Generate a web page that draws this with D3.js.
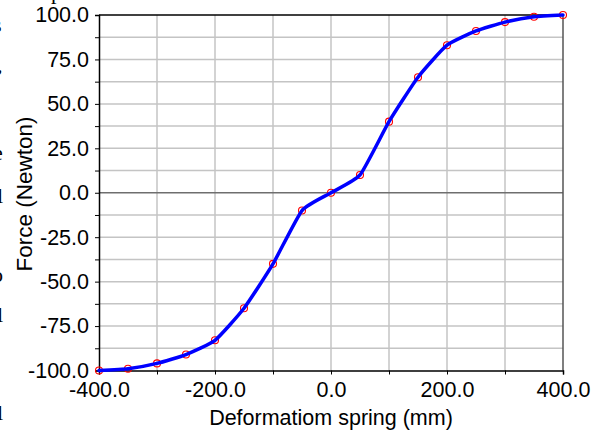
<!DOCTYPE html>
<html>
<head>
<meta charset="utf-8">
<script src="https://cdn.jsdelivr.net/npm/d3@7"></script>
<style>
  html, body { margin: 0; padding: 0; background: #fff; overflow: hidden; }
  svg { display: block; }
  text { font-family: "Liberation Sans", Arial, sans-serif; fill: #000; }
</style>
</head>
<body>
<svg id="chart" width="598" height="432"></svg>
<script>
// Spring characteristic: deformation (mm) vs force (N)
const deformation = [-400, -350, -300, -250, -200, -150, -100, -50, 0, 50, 100, 150, 200, 250, 300, 350, 400];
const force       = [-100, -99, -96, -91, -83, -65, -40, -10, 0, 10, 40, 65, 83, 91, 96, 99, 100];

const xTicks = [-400, -300, -200, -100, 0, 100, 200, 300, 400];
const xLabels = [-400, -200, 0, 200, 400];
const yTicks = d3.range(-100, 100.01, 12.5);
const yLabels = [-100, -75, -50, -25, 0, 25, 50, 75, 100];

const xTitle = "Deformatiom spring (mm)";
const yTitle = "Force (Newton)";

const FS = 21.5;
const svg = d3.select("#chart");
const plotL = 99, plotR = 563, plotT = 15, plotB = 370.5;

const x = d3.scaleLinear().domain([-400, 400]).range([plotL, plotR]);
const y = d3.scaleLinear().domain([-100, 100]).range([plotB, plotT]);

// grid
const grid = svg.append("g");
grid.selectAll("line.v").data(xTicks.filter(d => d > -400 && d < 400)).join("line")
  .attr("x1", d => x(d)).attr("x2", d => x(d))
  .attr("y1", plotT).attr("y2", plotB)
  .attr("stroke", "#c4c4c4").attr("stroke-width", 1.5);
grid.selectAll("line.h").data(yTicks.filter(d => d > -100 && d < 100 && d !== 0)).join("line")
  .attr("x1", plotL).attr("x2", plotR)
  .attr("y1", d => y(d)).attr("y2", d => y(d))
  .attr("stroke", "#c4c4c4").attr("stroke-width", 1.5);

// zero line
svg.append("line")
  .attr("x1", plotL).attr("x2", plotR).attr("y1", y(0)).attr("y2", y(0))
  .attr("stroke", "#6e6e6e").attr("stroke-width", 1.5);

// frame: top and right
svg.append("line").attr("x1", plotL).attr("x2", plotR).attr("y1", plotT).attr("y2", plotT)
  .attr("stroke", "#000").attr("stroke-width", 1.5);
svg.append("line").attr("x1", plotR).attr("x2", plotR).attr("y1", plotT).attr("y2", plotB)
  .attr("stroke", "#555").attr("stroke-width", 1.5);

// axes
const yAxis = d3.axisLeft(y).tickValues(yTicks).tickSize(4).tickPadding(6)
  .tickFormat(d => yLabels.includes(d) ? d.toFixed(1) : "");
const gy = svg.append("g").attr("transform", `translate(${plotL},0)`).call(yAxis);

const xAxis = d3.axisBottom(x).tickValues(xTicks).tickSize(4).tickPadding(7)
  .tickFormat(d => xLabels.includes(d) ? d.toFixed(1) : "");
const gx = svg.append("g").attr("transform", `translate(0,${plotB})`).call(xAxis);

[gx, gy].forEach(g => {
  g.select(".domain").attr("stroke", "#000").attr("stroke-width", 1.5);
  g.selectAll(".tick line").attr("stroke", "#000").attr("stroke-width", 1);
  g.selectAll(".tick text").attr("font-size", FS).attr("font-family", "Liberation Sans, Arial, sans-serif").attr("fill", "#000");
});

// axis titles
svg.append("text")
  .attr("x", (plotL + plotR) / 2).attr("y", 425)
  .attr("text-anchor", "middle").attr("font-size", FS)
  .text(xTitle);
svg.append("text")
  .attr("transform", `translate(32,194) rotate(-90)`)
  .attr("text-anchor", "middle").attr("font-size", 22.5)
  .text(yTitle);

// data
const pts = deformation.map((d, i) => [d, force[i]]);

svg.append("g").selectAll("circle").data(pts).join("circle")
  .attr("cx", d => x(d[0])).attr("cy", d => y(d[1])).attr("r", 3.5)
  .attr("fill", "none").attr("stroke", "#ff0000").attr("stroke-width", 1.1);

const line = d3.line().x(d => x(d[0])).y(d => y(d[1])).curve(d3.curveCardinal.tension(0.5));
svg.append("path").datum(pts).attr("d", line)
  .attr("fill", "none").attr("stroke", "#0000ff").attr("stroke-width", 3.5)
  .attr("stroke-linejoin", "round").attr("stroke-linecap", "round");

// clipped glyphs of neighbouring page text at the left edge
const frag = svg.append("g");
[["s", -7, 32], [",", -3, 72], ["e", -7, 160], ["l", -3, 203], ["o", -8, 282], ["l", -3, 322], ["l", -3, 420]]
  .forEach(([t, fx, fy]) => frag.append("text").attr("x", fx).attr("y", fy)
    .attr("font-size", 22).style("font-family", "Liberation Serif, serif").text(t));
svg.append("text").attr("x", 51).attr("y", -1).attr("font-size", 22)
  .style("font-family", "Liberation Serif, serif").text("p");
</script>
</body>
</html>
